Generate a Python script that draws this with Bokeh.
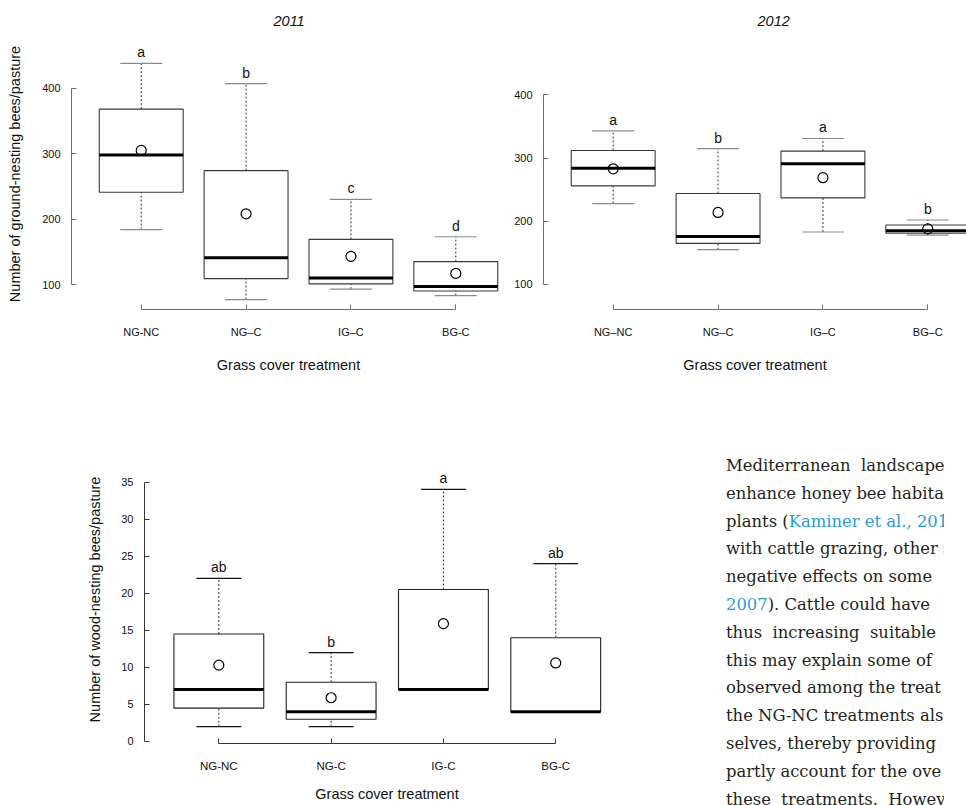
from bokeh.plotting import figure
from bokeh.layouts import column, row
from bokeh.models import FixedTicker, Div, ColumnDataSource, Range1d, Title
from bokeh.embed import file_html
from bokeh.resources import INLINE
from bokeh.core.properties import value

# ---------------- data ----------------
cats_2011 = ["NG-NC", "NG\u2013C", "IG\u2013C", "BG-C"]
cats_2012 = ["NG\u2013NC", "NG\u2013C", "IG\u2013C", "BG\u2013C"]
cats_wood = ["NG-NC", "NG-C", "IG-C", "BG-C"]

g11_low = [184, 77, 93, 83]
g11_q1 = [241, 109, 101, 90]
g11_med = [298, 141, 110, 97]
g11_q3 = [368, 274, 169, 135]
g11_high = [438, 407, 230, 173]
g11_mean = [305, 208, 143, 117]
g11_letters = ["a", "b", "c", "d"]

g12_low = [228, 155, 183, 178]
g12_q1 = [256, 165, 237, 181]
g12_med = [284, 176, 291, 185]
g12_q3 = [312, 244, 311, 194]
g12_high = [343, 315, 331, 202]
g12_mean = [283, 214, 269, 188]
g12_letters = ["a", "b", "a", "b"]

w_low = [2, 2, 7, 4]
w_q1 = [4.5, 3, 7, 4]
w_med = [7, 4, 7, 4]
w_q3 = [14.5, 8, 20.5, 14]
w_high = [22, 12, 34, 24]
w_mean = [10.3, 5.9, 15.9, 10.6]
w_letters = ["ab", "b", "a", "ab"]

ground_ticks = [100, 200, 300, 400]
wood_ticks = [0, 5, 10, 15, 20, 25, 30, 35]

FONT = "Liberation Sans"


def panel(cats, lo, q1, med, q3, hi, mean, letters, *, width, height, borders,
          xr, yr, yticks, ylabel, xlabel, title=None, title_offset=0,
          cap_color="#8a8a8a", box_color="#3a3a3a", axis_color="#6e6e6e",
          ytick_size="11px", xtick_size="11px", xlabel_size="14.5px",
          xlabel_standoff=16, xtick_standoff=16, ylabel_standoff=16):
    l, r, t, b = borders
    p = figure(width=width, height=height, x_range=Range1d(*xr), y_range=Range1d(*yr),
               output_backend="svg", toolbar_location=None,
               min_border_left=l, min_border_right=r, min_border_top=t, min_border_bottom=b,
               background_fill_color="white", border_fill_color="white")
    p.outline_line_color = None
    p.grid.visible = False
    xs = list(range(1, len(cats) + 1))
    src = ColumnDataSource(dict(
        x=xs, lo=lo, q1=q1, med=med, q3=q3, hi=hi, mean=mean, letters=letters,
        left=[x - 0.4 for x in xs], right=[x + 0.4 for x in xs],
        cl=[x - 0.2 for x in xs], cr=[x + 0.2 for x in xs]))
    # whiskers
    p.segment(x0="x", y0="q3", x1="x", y1="hi", source=src, line_color="#333333",
              line_width=1, line_dash="2 2")
    p.segment(x0="x", y0="lo", x1="x", y1="q1", source=src, line_color="#333333",
              line_width=1, line_dash="2 2")
    # caps
    p.segment(x0="cl", y0="hi", x1="cr", y1="hi", source=src, line_color=cap_color, line_width=1.2)
    p.segment(x0="cl", y0="lo", x1="cr", y1="lo", source=src, line_color=cap_color, line_width=1.2)
    # boxes
    p.quad(left="left", right="right", bottom="q1", top="q3", source=src,
           fill_color="white", line_color=box_color, line_width=1.1)
    # medians
    p.segment(x0="left", y0="med", x1="right", y1="med", source=src, line_color="black",
              line_width=3)
    # means
    p.scatter(x="x", y="mean", source=src, marker="circle", size=10, fill_color=None,
              line_color="black", line_width=1.2)
    # letters
    p.text(x="x", y="hi", text="letters", source=src, text_align="center",
           text_baseline="alphabetic", y_offset=-11, text_font=value(FONT),
           text_font_size="14px", text_color="#111111")

    xa = p.xaxis[0]
    xa.ticker = FixedTicker(ticks=xs, minor_ticks=[])
    xa.major_label_overrides = {x: c for x, c in zip(xs, cats)}
    xa.bounds = (1, len(cats))
    xa.major_tick_in = 5
    xa.major_tick_out = 0
    xa.minor_tick_line_color = None
    xa.axis_line_color = axis_color
    xa.major_tick_line_color = axis_color
    xa.major_label_text_font = FONT
    xa.major_label_text_font_size = xtick_size
    xa.major_label_text_color = "#111111"
    xa.major_label_standoff = xtick_standoff
    xa.axis_label = xlabel
    xa.axis_label_text_font = FONT
    xa.axis_label_text_font_size = xlabel_size
    xa.axis_label_text_font_style = "normal"
    xa.axis_label_text_color = "#111111"
    xa.axis_label_standoff = xlabel_standoff

    ya = p.yaxis[0]
    ya.ticker = FixedTicker(ticks=yticks, minor_ticks=[])
    ya.bounds = (yticks[0], yticks[-1])
    ya.major_tick_in = 5
    ya.major_tick_out = 0
    ya.minor_tick_line_color = None
    ya.axis_line_color = axis_color
    ya.major_tick_line_color = axis_color
    ya.major_label_text_font = FONT
    ya.major_label_text_font_size = ytick_size
    ya.major_label_text_color = "#111111"
    ya.major_label_standoff = 11
    if ylabel:
        ya.axis_label = ylabel
        ya.axis_label_text_font = FONT
        ya.axis_label_text_font_size = "14.5px"
        ya.axis_label_text_font_style = "normal"
        ya.axis_label_text_color = "#111111"
        ya.axis_label_standoff = ylabel_standoff

    if title:
        p.title = Title(text=title, align="left", offset=title_offset,
                        text_font=FONT, text_font_size="14.5px", text_font_style="italic",
                        text_color="#111111", standoff=26)
    return p


p11 = panel(cats_2011, g11_low, g11_q1, g11_med, g11_q3, g11_high, g11_mean, g11_letters,
            width=505, height=395, borders=(71, 0, 38, 86),
            xr=(0.335, 4.474), yr=(61.8, 476.0), yticks=ground_ticks,
            ylabel="Number of ground-nesting bees/pasture", xlabel="Grass cover treatment",
            title="2011", title_offset=202)

p12 = panel(cats_2012, g12_low, g12_q1, g12_med, g12_q3, g12_high, g12_mean, g12_letters,
            width=461, height=395, borders=(38, 0, 38, 86),
            xr=(0.3356, 4.369), yr=(60.4, 489.2), yticks=ground_ticks,
            ylabel=None, xlabel="Grass cover treatment",
            title="2012", title_offset=214)

pw = panel(cats_wood, w_low, w_q1, w_med, w_q3, w_high, w_mean, w_letters,
           width=700, height=410, borders=(144, 71, 60, 62),
           xr=(0.338, 4.657), yr=(-0.27, 38.58), yticks=wood_ticks,
           ylabel="Number of wood-nesting bees/pasture", xlabel="Grass cover treatment",
           cap_color="#111111", box_color="#222222", axis_color="#333333",
           xtick_size="11.5px", xtick_standoff=16, xlabel_standoff=11, ylabel_standoff=15)

# ---------------- body text beside the lower chart ----------------
body_lines = [
    [("Mediterranean  landscape", False)],
    [("enhance honey bee habita", False)],
    [("plants (", False), ("Kaminer et al., 201", True)],
    [("with cattle grazing, other s", False)],
    [("negative effects on some", False)],
    [("2007", True), ("). Cattle could have", False)],
    [("thus  increasing  suitable  l", False)],
    [("this may explain some of", False)],
    [("observed among the treat", False)],
    [("the NG-NC treatments als", False)],
    [("selves, thereby providing", False)],
    [("partly account for the ove", False)],
    [("these  treatments.  Howev", False)],
]
html_lines = []
for segs in body_lines:
    parts = []
    for txt, link in segs:
        if link:
            parts.append('<span style="color:#2b9bd6">%s</span>' % txt)
        else:
            parts.append(txt)
    html_lines.append("".join(parts))
html = ('<div style="font-family:\'DejaVu Serif\'; font-size:16.4px; line-height:27.8px; '
        'color:#231f20; white-space:pre; padding-left:21px; padding-top:52px; '
        'width:239px; overflow:hidden;">' + "<br>".join(html_lines) + '</div>')
text_div = Div(text=html, width=266, height=410, styles={"overflow": "hidden"})

layout = column(row(p11, p12, spacing=0), row(pw, text_div, spacing=0), spacing=0)

open("out.html", "w").write(file_html(layout, INLINE))
